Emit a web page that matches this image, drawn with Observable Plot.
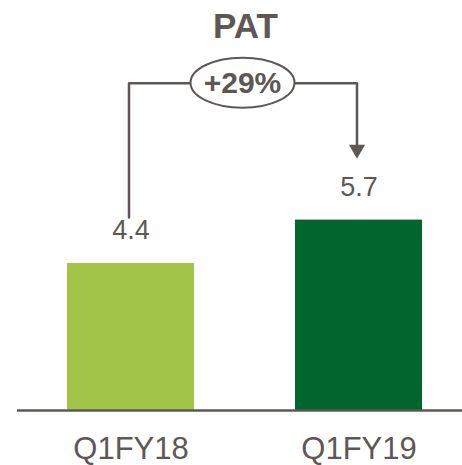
<!DOCTYPE html>
<html><head><meta charset="utf-8">
<script src="https://cdn.jsdelivr.net/npm/d3@7"></script>
<script src="https://cdn.jsdelivr.net/npm/@observablehq/plot@0.6"></script>
<style>body{margin:0;background:#fff}</style>
</head><body><div id="chart"></div>
<script>
const categories = ["Q1FY18", "Q1FY19"];
const values = [4.4, 5.7];
const valueLabels = ["4.4", "5.7"];
const barColors = ["#a2c547", "#00662e"];
const title = "PAT";
const growthLabel = "+29%";
const connectorLevel = 9.8;

const gray = "#5d5855";
const font = "'Liberation Sans', Arial, sans-serif";
const data = categories.map((c, i) => ({category: c, value: values[i], label: valueLabels[i], color: barColors[i]}));

const connector = [
  {category: categories[0], value: values[0] + 1.38},
  {category: categories[0], value: connectorLevel},
  {category: categories[1], value: connectorLevel},
  {category: categories[1], value: values[1] + 2.25}
];
const arrowTip = [{category: categories[1], value: values[1] + 1.84}];

const ellipseMark = (index, scales) => {
  const x = scales.x;
  const bw = x.bandwidth ? x.bandwidth() : 0;
  const cx = (x(categories[0]) + x(categories[1])) / 2 + bw / 2 - 2;
  const cy = scales.y(connectorLevel);
  const g = d3.create("svg:g");
  g.append("ellipse").attr("cx", cx).attr("cy", cy).attr("rx", 52).attr("ry", 25)
    .attr("fill", "white").attr("stroke", gray).attr("stroke-width", 2);
  g.append("text").attr("x", cx).attr("y", cy).attr("dy", "0.36em")
    .attr("text-anchor", "middle").attr("font-family", font).attr("font-weight", "bold")
    .attr("font-size", 30).attr("fill", gray).text(growthLabel);
  return g.node();
};

const chart = Plot.plot({
  width: 462,
  height: 465,
  marginTop: 0,
  marginBottom: 55,
  marginLeft: 67,
  marginRight: 39,
  style: {fontFamily: font, background: "white", color: gray},
  x: {domain: categories, paddingInner: 0.442, paddingOuter: 0, axis: null},
  y: {domain: [0, 12.275], axis: null},
  marks: [
    Plot.barY(data, {x: "category", y: "value", fill: "color"}),
    Plot.ruleY([0], {stroke: gray, strokeWidth: 2.5, insetLeft: -50, insetRight: -39}),
    Plot.axisX({tickSize: 0, tickPadding: 26, fontSize: 31, fill: gray, label: null}),
    Plot.text(data, {x: "category", y: "value", text: "label", dy: -33, lineAnchor: "middle", fontSize: 27, fill: gray}),
    Plot.line(connector, {x: "category", y: "value", stroke: gray, strokeWidth: 2.5, dx: -2}),
    Plot.dot(arrowTip, {x: "category", y: "value", symbol: "triangle", rotate: 180, r: 6, fill: gray, stroke: "none", dx: -2, dy: -9.3}),
    ellipseMark,
    Plot.text([title], {frameAnchor: "top", dy: 26, lineAnchor: "middle", fontSize: 35, fontWeight: "bold", fill: gray})
  ]
});
document.getElementById("chart").appendChild(chart);
</script>
</body></html>
